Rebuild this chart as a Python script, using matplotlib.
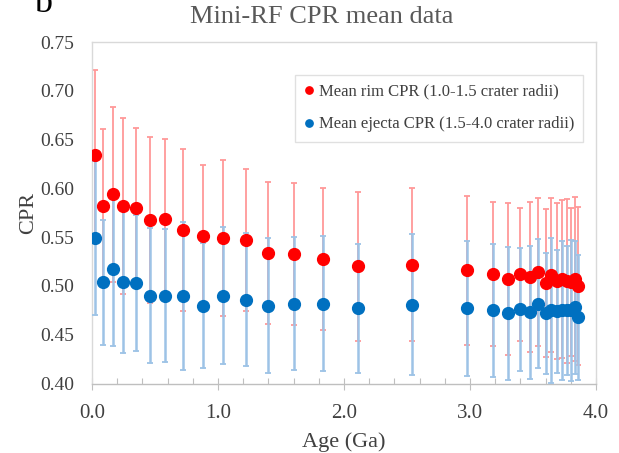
"""
Mini-RF CPR mean data : CPR moyen du rebord et des éjectas en fonction de l'âge.
"""
import matplotlib
matplotlib.use("Agg")
import matplotlib.pyplot as plt
from matplotlib.ticker import MultipleLocator

# Données
age_ga = [0.02, 0.09, 0.17, 0.25, 0.35, 0.46, 0.58, 0.72, 0.88, 1.04,
          1.22, 1.40, 1.60, 1.83, 2.11, 2.54, 2.98, 3.18, 3.30, 3.40,
          3.48, 3.54, 3.60, 3.64, 3.69, 3.73, 3.77, 3.80, 3.83, 3.86]

rim_cpr = [0.634, 0.582, 0.594, 0.582, 0.580, 0.568, 0.569, 0.557, 0.551, 0.549,
           0.547, 0.534, 0.533, 0.528, 0.520, 0.522, 0.516, 0.512, 0.507, 0.512,
           0.509, 0.514, 0.503, 0.511, 0.505, 0.507, 0.505, 0.504, 0.507, 0.500]
rim_err = [0.087, 0.079, 0.090, 0.090, 0.082, 0.085, 0.082, 0.083, 0.073, 0.080,
           0.073, 0.073, 0.073, 0.073, 0.076, 0.078, 0.076, 0.074, 0.078, 0.068,
           0.077, 0.076, 0.076, 0.079, 0.080, 0.081, 0.084, 0.076, 0.084, 0.081]

ejecta_cpr = [0.549, 0.504, 0.517, 0.504, 0.503, 0.490, 0.490, 0.490, 0.480, 0.490,
              0.486, 0.480, 0.482, 0.482, 0.477, 0.481, 0.477, 0.475, 0.472, 0.476,
              0.473, 0.482, 0.472, 0.475, 0.474, 0.475, 0.475, 0.475, 0.478, 0.468]
ejecta_err = [0.079, 0.064, 0.079, 0.073, 0.070, 0.069, 0.068, 0.076, 0.064, 0.070,
              0.068, 0.069, 0.068, 0.069, 0.066, 0.072, 0.069, 0.068, 0.068, 0.063,
              0.068, 0.066, 0.062, 0.074, 0.063, 0.071, 0.066, 0.072, 0.068, 0.064]

RIM_LABEL = "Mean rim CPR (1.0-1.5 crater radii)"
EJECTA_LABEL = "Mean ejecta CPR (1.5-4.0 crater radii)"

# Mise en page
_RED = "#FF0000"
_RED_BAR = "#FF9999"
_BLUE = "#0070C0"
_BLUE_BAR = "#9DC3E6"
_TEXT = "#404040"
_FONT = ["Liberation Serif", "DejaVu Serif"]

plt.rcParams["font.family"] = _FONT

fig = plt.figure(figsize=(6.19, 4.53), dpi=100)
ax = fig.add_axes([0.1486, 0.1534, 0.8142, 0.7534])

# barres d'erreur d'abord, points ensuite
ax.errorbar(age_ga, rim_cpr, yerr=rim_err, fmt="none", ecolor=_RED_BAR,
            elinewidth=1.3, capsize=2.2, capthick=1.3, zorder=2)
ax.errorbar(age_ga, ejecta_cpr, yerr=ejecta_err, fmt="none", ecolor=_BLUE_BAR,
            elinewidth=1.8, capsize=2.2, capthick=1.3, zorder=3)
ax.plot(age_ga, rim_cpr, "o", color=_RED, ms=8.5, mec=_RED, zorder=4,
        label=RIM_LABEL)
ax.plot(age_ga, ejecta_cpr, "o", color=_BLUE, ms=8.5, mec=_BLUE, zorder=5,
        label=EJECTA_LABEL)

ax.set_xlim(0, 4.0)
ax.set_ylim(0.40, 0.75)
ax.xaxis.set_major_locator(MultipleLocator(1.0))
ax.xaxis.set_minor_locator(MultipleLocator(0.2))
ax.yaxis.set_major_locator(MultipleLocator(0.05))
ax.xaxis.set_major_formatter(plt.FormatStrFormatter("%.1f"))
ax.yaxis.set_major_formatter(plt.FormatStrFormatter("%.2f"))

ax.tick_params(axis="x", which="major", direction="inout", length=9,
               width=0.8, color="#BFBFBF", labelsize=15, labelcolor=_TEXT, pad=10)
ax.tick_params(axis="x", which="minor", direction="in", length=4,
               width=0.8, color="#BFBFBF")
ax.tick_params(axis="y", which="both", length=0, labelsize=14,
               labelcolor=_TEXT, pad=13)

for side in ("top", "left", "right"):
    ax.spines[side].set_color("#D9D9D9")
    ax.spines[side].set_linewidth(1.0)
ax.spines["bottom"].set_color("#BFBFBF")
ax.spines["bottom"].set_linewidth(1.0)

ax.set_xlabel("Age (Ga)", fontsize=16, color=_TEXT, labelpad=7)
ax.set_ylabel("CPR", fontsize=16, color=_TEXT, labelpad=1)
fig.text(0.52, 0.963, "Mini-RF CPR mean data", fontsize=19, color="#595959",
         ha="center", va="center")

# lettre de panneau coupée en haut
fig.text(0.055, 0.974, "b", fontsize=26, color="black", ha="left",
         va="baseline")

leg = ax.legend(loc="upper left", bbox_to_anchor=(0.402, 0.905),
                fontsize=12, markerscale=0.62, handlelength=0.6,
                handletextpad=0.3, borderpad=0.55, labelspacing=1.0,
                frameon=True, fancybox=False, borderaxespad=0)
leg.get_frame().set_edgecolor("#D9D9D9")
leg.get_frame().set_linewidth(1.0)
for t in leg.get_texts():
    t.set_color(_TEXT)

fig.savefig("out.png", dpi=100)
